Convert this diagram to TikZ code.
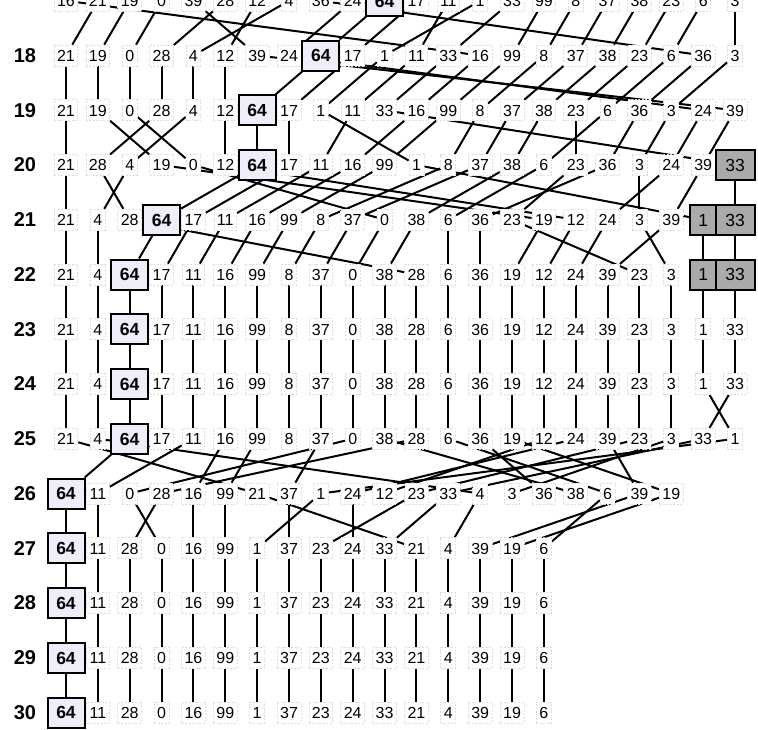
\documentclass[tikz,border=0pt]{standalone}
\usepackage{fontspec}
\setmainfont{Liberation Sans}
\pgfdeclarelayer{edges}
\pgfsetlayers{edges,main}
\definecolor{lav}{RGB}{241,236,250}
\definecolor{boxgray}{RGB}{170,170,170}
\tikzset{
  num/.style={draw=black!13, dash pattern=on 2pt off 1.5pt, line width=0.8pt, fill=white, inner xsep=3pt, inner ysep=0pt,
    minimum height=21pt, text height=11.5pt, text depth=0pt, font=\fontsize{16}{16}\selectfont},
  v64/.style={draw=black, solid, line width=2pt, fill=lav, minimum width=37pt, minimum height=30pt,
    inner sep=0pt, text height=12.6pt, font=\fontsize{17.5}{18}\selectfont\bfseries},
  graybox/.style={draw=black, solid, line width=2pt, fill=boxgray, minimum height=30pt,
    inner sep=0pt, text height=12.6pt, font=\fontsize{17.5}{18}\selectfont},
  r20-33/.style={graybox, minimum width=39pt},
  r21-33/.style={graybox, minimum width=39pt},
  r22-33/.style={graybox, minimum width=39pt},
  r21-1/.style={graybox, minimum width=26pt},
  r22-1/.style={graybox, minimum width=26pt},
  edge/.style={line width=2pt, black},
  lab/.style={font=\fontsize{20}{20}\selectfont\bfseries, inner sep=0pt}
}
\newcommand\placerow[2]{%
  \foreach \v [count=\k from 0] in {#2}{%
    \node[num, v\v/.try, r#1-\v/.try] (n#1-\v) at ({66+31.86*\k},{55.5+(#1-18)*54.75}) {\v};
  }}
\newcommand\linkrows[3]{%
  \foreach \v in {#3}{\draw[edge] (n#1-\v) -- (n#2-\v);}}
\begin{document}
\begin{tikzpicture}[x=1pt,y=-1pt]
\useasboundingbox (0,0) rectangle (758,729);
\clip (0,0) rectangle (758,729);
% row labels
\foreach \r in {18,...,30}{\node[lab] (L\r) at (25,{55.5+(\r-18)*54.75}) {\r};}
% rows
\placerow{17}{16,21,19,0,39,28,12,4,36,24,64,17,11,1,33,99,8,37,38,23,6,3}
\placerow{18}{21,19,0,28,4,12,39,24,64,17,1,11,33,16,99,8,37,38,23,6,36,3}
\placerow{19}{21,19,0,28,4,12,64,17,1,11,33,16,99,8,37,38,23,6,36,3,24,39}
\placerow{20}{21,28,4,19,0,12,64,17,11,16,99,1,8,37,38,6,23,36,3,24,39,33}
\placerow{21}{21,4,28,64,17,11,16,99,8,37,0,38,6,36,23,19,12,24,3,39,1,33}
\placerow{22}{21,4,64,17,11,16,99,8,37,0,38,28,6,36,19,12,24,39,23,3,1,33}
\placerow{23}{21,4,64,17,11,16,99,8,37,0,38,28,6,36,19,12,24,39,23,3,1,33}
\placerow{24}{21,4,64,17,11,16,99,8,37,0,38,28,6,36,19,12,24,39,23,3,1,33}
\placerow{25}{21,4,64,17,11,16,99,8,37,0,38,28,6,36,19,12,24,39,23,3,33,1}
\placerow{26}{64,11,0,28,16,99,21,37,1,24,12,23,33,4,3,36,38,6,39,19}
\placerow{27}{64,11,28,0,16,99,1,37,23,24,33,21,4,39,19,6}
\placerow{28}{64,11,28,0,16,99,1,37,23,24,33,21,4,39,19,6}
\placerow{29}{64,11,28,0,16,99,1,37,23,24,33,21,4,39,19,6}
\placerow{30}{64,11,28,0,16,99,1,37,23,24,33,21,4,39,19,6}
\begin{pgfonlayer}{edges}
\linkrows{17}{18}{21,19,0,28,4,12,39,24,64,17,1,11,33,16,99,8,37,38,23,6,36,3}
\linkrows{18}{19}{21,19,0,28,4,12,64,17,1,11,33,16,99,8,37,38,23,6,36,3,24,39}
\linkrows{19}{20}{21,28,4,19,0,12,64,17,11,16,99,1,8,37,38,6,23,36,3,24,39,33}
\linkrows{20}{21}{21,4,28,64,17,11,16,99,8,37,0,38,6,36,23,19,12,24,3,39,1,33}
\linkrows{21}{22}{21,4,64,17,11,16,99,8,37,0,38,28,6,36,19,12,24,39,23,3,1,33}
\linkrows{22}{23}{21,4,64,17,11,16,99,8,37,0,38,28,6,36,19,12,24,39,23,3,1,33}
\linkrows{23}{24}{21,4,64,17,11,16,99,8,37,0,38,28,6,36,19,12,24,39,23,3,1,33}
\linkrows{24}{25}{21,4,64,17,11,16,99,8,37,0,38,28,6,36,19,12,24,39,23,3,33,1}
\linkrows{25}{26}{64,11,0,28,16,99,21,37,1,24,12,23,33,4,3,36,38,6,39,19}
\linkrows{26}{27}{64,11,28,0,16,99,1,37,23,24,33,21,4,39,19,6}
\linkrows{27}{28}{64,11,28,0,16,99,1,37,23,24,33,21,4,39,19,6}
\linkrows{28}{29}{64,11,28,0,16,99,1,37,23,24,33,21,4,39,19,6}
\linkrows{29}{30}{64,11,28,0,16,99,1,37,23,24,33,21,4,39,19,6}
\end{pgfonlayer}
\end{tikzpicture}
\end{document}
